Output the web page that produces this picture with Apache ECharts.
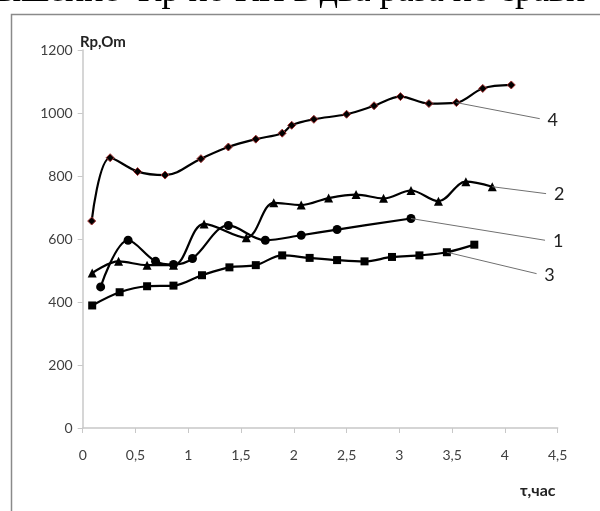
<!DOCTYPE html>
<html><head><meta charset="utf-8">
<script src="https://cdn.jsdelivr.net/npm/echarts@6/dist/echarts.min.js"></script>
<style>html,body{margin:0;padding:0;background:#fff}#c{width:600px;height:511px}</style>
</head><body><div id="c"></div>
<script>
const xTicks = [0, 0.5, 1, 1.5, 2, 2.5, 3, 3.5, 4, 4.5];
const yTicks = [0, 200, 400, 600, 800, 1000, 1200];

const t1 = [0.17, 0.43, 0.69, 0.86, 1.04, 1.38, 1.73, 2.07, 2.41, 3.11];
const r1 = [448, 596, 529, 519, 538, 643, 596, 612, 630, 665];

const t2 = [0.09, 0.34, 0.61, 0.86, 1.15, 1.55, 1.81, 2.07, 2.33, 2.59, 2.85, 3.11, 3.37, 3.63, 3.88];
const r2 = [492, 529, 517, 517, 648, 604, 715, 708, 730, 741, 729, 754, 720, 782, 766];

const t3 = [0.09, 0.35, 0.61, 0.86, 1.13, 1.39, 1.64, 1.89, 2.15, 2.41, 2.67, 2.93, 3.19, 3.45, 3.71];
const r3 = [389, 431, 450, 452, 485, 510, 517, 548, 540, 533, 529, 543, 548, 558, 582];

const t4 = [0.085, 0.26, 0.52, 0.78, 1.12, 1.38, 1.64, 1.89, 1.98, 2.19, 2.5, 2.76, 3.01, 3.28, 3.54, 3.79, 4.06];
const r4 = [657, 858, 814, 803, 855, 892, 917, 936, 961, 980, 996, 1023, 1052, 1030, 1033, 1078, 1089];

// leader lines: [fromT, fromR, toT, toR]
const lead1 = [3.11, 665, 4.38, 596];
const lead2 = [3.88, 766, 4.39, 744];
const lead3 = [3.45, 558, 4.30, 490];
const lead4 = [3.54, 1033, 4.33, 982];

const pairs = (t, r) => t.map((v, i) => [v, r[i]]);
const labFont = "Lato";

function leader(l, txt) {
  return {
    silent: true, symbol: 'none',
    lineStyle: { color: '#707070', width: 1, type: 'solid' },
    label: { show: true, position: 'end', formatter: txt, color: '#222', fontSize: 18, fontFamily: 'Lato', distance: 8 },
    data: [[{ coord: [l[0], l[1]] }, { coord: [l[2], l[3]] }]]
  };
}

function ser(name, t, r, sym, size, ml, border) {
  return {
    name, type: 'line', data: pairs(t, r), smooth: 0.35,
    symbol: sym, symbolSize: size, showSymbol: true,
    lineStyle: { color: '#000', width: 2.2 },
    itemStyle: { color: '#000', borderColor: border || '#000', borderWidth: border ? 1 : 0 },
    markLine: leader(ml, name), z: 3
  };
}

const chart = echarts.init(document.getElementById('c'));
chart.setOption({
  animation: false,
  grid: { left: 82.7, right: 42.3, top: 50, bottom: 83 },
  xAxis: {
    type: 'value', min: 0, max: 4.5, interval: 0.5,
    axisLine: { lineStyle: { color: '#c8c8c8', width: 1.5 } },
    axisTick: { show: true, length: 5, lineStyle: { color: '#c8c8c8' } },
    splitLine: { show: false },
    axisLabel: { margin: 20, color: '#404040', fontSize: 14, fontFamily: labFont,
      formatter: v => String(v).replace('.', ',') }
  },
  yAxis: {
    type: 'value', min: 0, max: 1200, interval: 200,
    axisLine: { show: true, lineStyle: { color: '#c8c8c8', width: 1.5 } },
    axisTick: { show: true, length: 5, lineStyle: { color: '#c8c8c8' } },
    splitLine: { show: false },
    axisLabel: { margin: 10, color: '#404040', fontSize: 14, fontFamily: labFont, formatter: v => String(v) }
  },
  series: [
    ser('1', t1, r1, 'circle', 9, lead1),
    ser('2', t2, r2, 'triangle', 9, lead2),
    ser('3', t3, r3, 'rect', 8, lead3),
    ser('4', t4, r4, 'diamond', 8, lead4, '#a03030')
  ],
  graphic: [
    { type: 'rect', left: 9, top: 12, shape: { width: 600, height: 520 }, style: { fill: 'none', stroke: '#8a8a8a', lineWidth: 1.5 }, z: 1 },
    { type: 'text', x: -3, y: 10, style: { text: 'ышение  Rр по КП в два раза по сравн', fontSize: 36, fontFamily: 'Liberation Serif', fill: '#000', verticalAlign: 'bottom' }, z: 10 },
    { type: 'text', left: 80, top: 35, style: { text: 'Rp,Om', fontSize: 15, fontWeight: 'bold', fontFamily: 'Lato', fill: '#222' }, z: 10 },
    { type: 'text', left: 520, top: 483, style: { text: 'τ,час', fontSize: 16, fontWeight: 'bold', fontFamily: 'Lato', fill: '#222' }, z: 10 }
  ]
});
</script></body></html>
